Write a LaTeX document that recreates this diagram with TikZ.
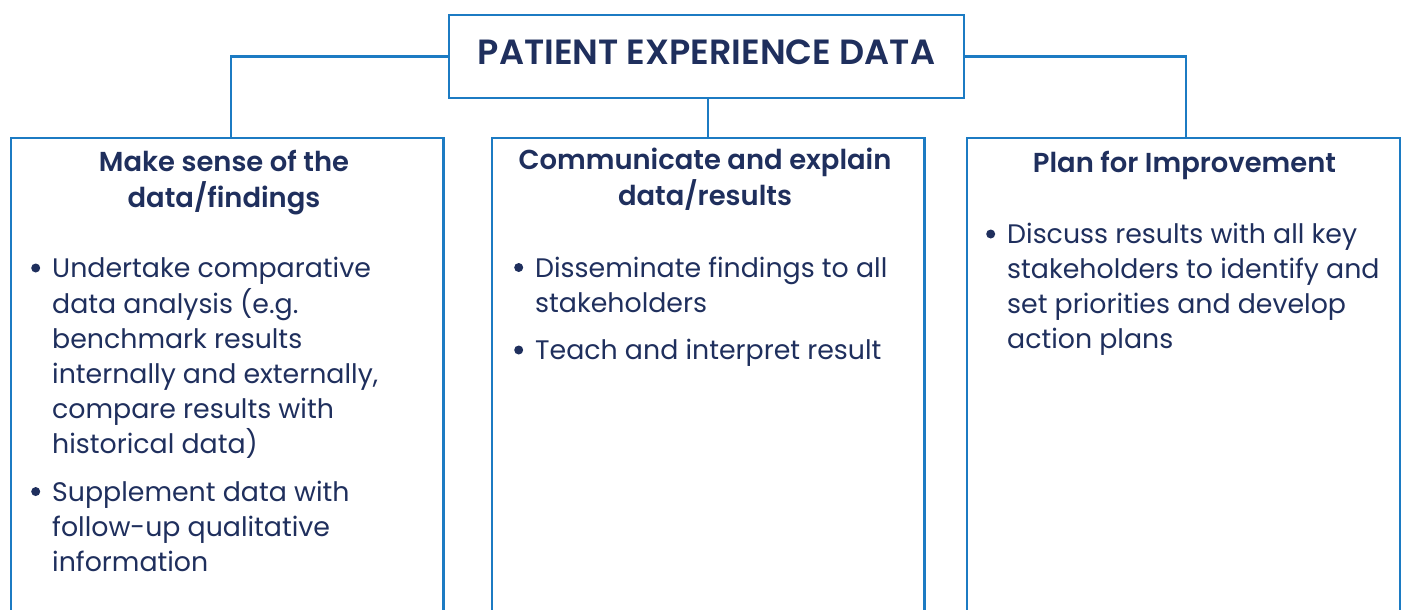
\documentclass[tikz,border=0pt]{standalone}
\usepackage{fontspec}
\setmainfont{Poppins}[BoldFont={Poppins SemiBold}]
\definecolor{lineblue}{HTML}{1C7BC3}
\definecolor{navy}{HTML}{1F2F5D}
\newcommand\bul{\makebox[21pt][l]{\tikz[baseline=0pt]\fill[navy] (4.5pt,9.5pt) circle (4.5pt);}}
\begin{document}
\begin{tikzpicture}[x=1pt,y=-1pt,
  conn/.style={draw=lineblue,line width=2.5pt},
  panel/.style={inner sep=0pt, minimum width=432pt, minimum height=490pt, anchor=north west},
  titlebox/.style={draw=lineblue, line width=2.5pt, fill=white, minimum width=515pt, minimum height=83pt, inner sep=0pt, text=navy, font=\fontsize{35}{40}\selectfont\bfseries, text height=25pt, text depth=8pt},
  head/.style={anchor=base, inner sep=0pt, text=navy, font=\fontsize{27.4}{34}\selectfont\bfseries},
  body/.style={anchor=base west, inner sep=0pt, text=navy, font=\fontsize{26.8}{35}\selectfont}]
\useasboundingbox (0,0) rectangle (1401,610);
\clip (0,0) rectangle (1401,610);

\node[panel] (L) at (11,138) {};
\node[panel] (M) at (492,138) {};
\node[panel, minimum width=433pt] (R) at (967,138) {};

\node[titlebox] (T) at (706.5,56.5) {PATIENT EXPERIENCE DATA};

\draw[conn] (T.west) -| ([xshift=4pt]L.north);
\draw[conn] (T.east) -| ([xshift=2.5pt]R.north);
\draw[conn] (T.south -| M.north) -- (M.north);
\node[titlebox] at (T) {PATIENT EXPERIENCE DATA};

\draw[conn] (L.south west) -- (L.north west) -- (L.north east) -- (L.south east);
\draw[conn] (M.south west) -- (M.north west) -- (M.north east) -- (M.south east);
\draw[conn] (R.south west) -- (R.north west) -- (R.north east) -- (R.south east);

\node[head] (Lh) at (224,171.5) {\begin{tabular}[t]{@{}c@{}}Make sense of the\\data/findings\end{tabular}};
\node[head] (Mh) at (705,169) {\begin{tabular}[t]{@{}c@{}}Communicate and explain\\data/results\end{tabular}};
\node[head] (Rh) at (1184.5,172) {\begin{tabular}[t]{@{}c@{}}Plan for Improvement\end{tabular}};

\node[body] (Lb) at (31,277.5) {\begin{tabular}[t]{@{}l@{}l@{}}
\bul & Undertake comparative\\
 & data analysis (e.g.\\
 & benchmark results\\
 & internally and externally,\\
 & compare results with\\
 & historical data)\\[12.5pt]
\bul & Supplement data with\\
 & follow-up qualitative\\
 & information
\end{tabular}};
\node[body] (Mb) at (514,277) {\begin{tabular}[t]{@{}l@{}l@{}}
\bul & Disseminate findings to all\\
 & stakeholders\\[12.5pt]
\bul & Teach and interpret result
\end{tabular}};
\node[body] (Rb) at (986,243.5) {\begin{tabular}[t]{@{}l@{}l@{}}
\bul & Discuss results with all key\\
 & stakeholders to identify and\\
 & set priorities and develop\\
 & action plans
\end{tabular}};
\end{tikzpicture}
\end{document}
